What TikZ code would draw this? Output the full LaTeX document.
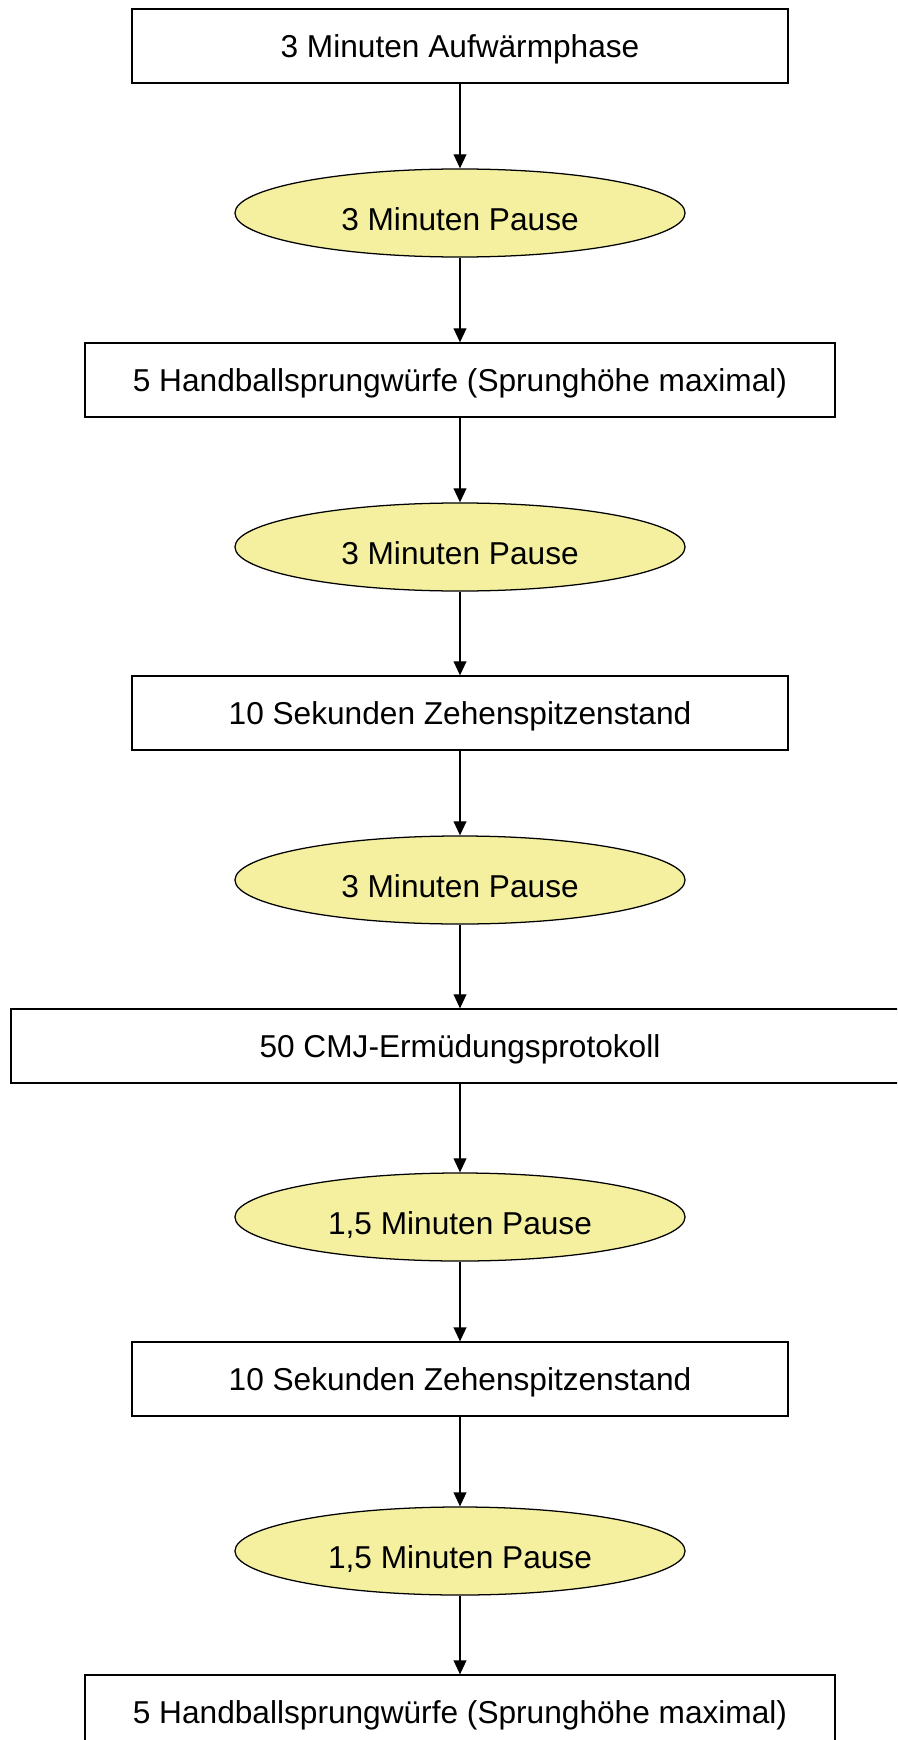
\documentclass[tikz,border=0pt]{standalone}
\usepackage{fontspec}
\setmainfont{Liberation Sans}
\usetikzlibrary{shapes.geometric,arrows.meta}
\definecolor{pausegelb}{RGB}{244,240,160}

\begin{document}
\begin{tikzpicture}[x=0.025cm,y=-0.025cm]
  \clip (0,0) rectangle (897,1740);
  \tikzstyle{every node}=[font=\fontsize{22.5}{27}\selectfont,line width=0.9pt,text height=16.6pt,text depth=0pt]
  \tikzstyle{phase}=[rectangle,draw,minimum width=16.4cm,minimum height=1.85cm]
  \tikzstyle{pause}=[ellipse,draw,fill=pausegelb,minimum width=11.25cm,minimum height=2.2cm,inner sep=0pt,text height=25.5pt]
  \tikzstyle{pfeil}=[-{Triangle[length=0.35cm,width=0.32cm]},line width=0.9pt]
    \node[phase] (warmup) at (460,46) {3 Minuten Aufwärmphase};
    \node[pause] (p1) at (460,213) {3 Minuten Pause};
    \node[phase,minimum width=18.75cm] (wurf1) at (460,380) {5 Handballsprungwürfe (Sprunghöhe maximal)};
    \node[pause] (p2) at (460,547) {3 Minuten Pause};
    \node[phase] (stand1) at (460,713) {10 Sekunden Zehenspitzenstand};
    \node[pause] (p3) at (460,880) {3 Minuten Pause};
    \node[phase,minimum width=22.45cm] (cmj) at (460,1046) {50 CMJ-Ermüdungsprotokoll};
    \node[pause] (p4) at (460,1217) {1,5 Minuten Pause};
    \node[phase] (stand2) at (460,1379) {10 Sekunden Zehenspitzenstand};
    \node[pause] (p5) at (460,1551) {1,5 Minuten Pause};
    \node[phase,minimum width=18.75cm] (wurf2) at (460,1712) {5 Handballsprungwürfe (Sprunghöhe maximal)};
    \foreach \von/\nach in {warmup/p1,p1/wurf1,wurf1/p2,p2/stand1,stand1/p3,p3/cmj,cmj/p4,p4/stand2,stand2/p5,p5/wurf2}
      \draw[pfeil] (\von) -- (\nach);
\end{tikzpicture}
\end{document}
